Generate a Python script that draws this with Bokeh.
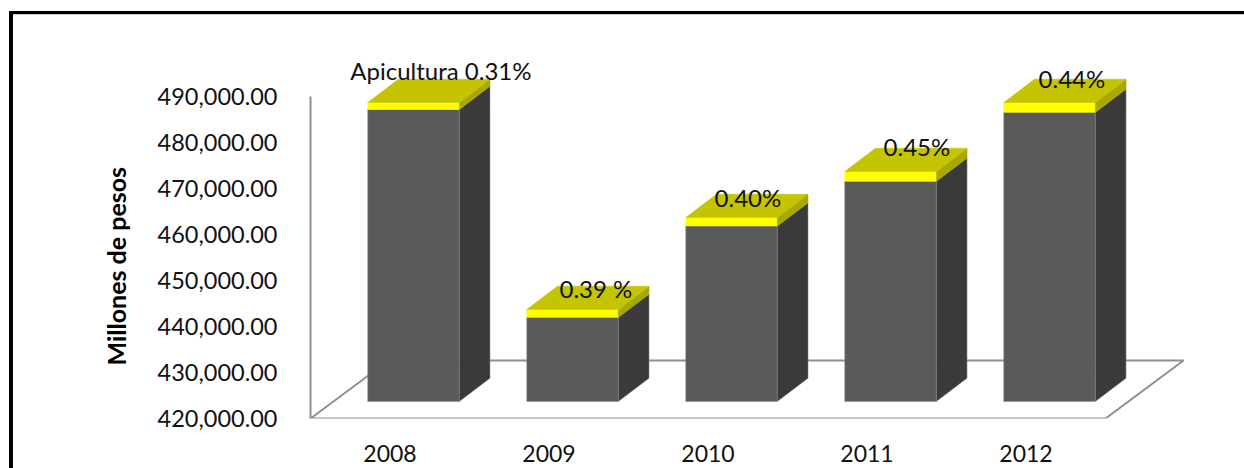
from bokeh.plotting import figure
from bokeh.models import Range1d, FixedTicker, NumeralTickFormatter, ColumnDataSource, Title
from bokeh.core.properties import value
from bokeh.embed import file_html
from bokeh.resources import INLINE

years = ["2008", "2009", "2010", "2011", "2012"]
totals = [485000, 440000, 460000, 470000, 485000]
shares = [0.31, 0.39, 0.40, 0.45, 0.44]
labels = ["Apicultura 0.31%", "0.39 %", "0.40%", "0.45%", "0.44%"]
y_ticks = [420000, 430000, 440000, 450000, 460000, 470000, 480000, 490000]
axis_title = "Millones de pesos"

# 3-D look, in data units
BASE = 420000
LIFT = 3700        # bars stand on the middle of the floor
HALF = 0.288       # half bar width
SHIFT = 0.148      # bar centre relative to the category label
DX, DY = 0.193, 5065
FLOOR_L, FLOOR_R = -0.5, 4.5
FLOOR_DX, FLOOR_DY = 0.4906, 12609
label_dx = [12, 8, 1, 11, 7]     # px, from the front-face centre + depth
label_dy = [32, 21, 20, 25, 24]  # px above the front-top edge
FONT = "Lato"

p = figure(width=1244, height=468, output_backend="svg", toolbar_location=None,
           x_range=Range1d(-0.5, 5.374), y_range=Range1d(BASE, 510870),
           min_border_left=310, min_border_right=0, min_border_top=0, min_border_bottom=50,
           outline_line_color=None, background_fill_color=None, border_fill_color=None)
p.grid.visible = False

# black picture frame, top and left, painted behind the transparent canvas
p.styles = {"background":
            "linear-gradient(black,black) 9px 11px/4px 100% no-repeat,"
            "linear-gradient(black,black) 9px 11px/100% 3px no-repeat,"
            "linear-gradient(#cfcfcf,#cfcfcf) 9px 14px/100% 1px no-repeat,"
            "white"}

# floor
fx = [FLOOR_L, FLOOR_R, FLOOR_R + FLOOR_DX, FLOOR_L + FLOOR_DX, FLOOR_L]
fy = [BASE, BASE, BASE + FLOOR_DY, BASE + FLOOR_DY, BASE]
p.line(fx, fy, line_color="#8f8f8f", line_width=2)

for i, (t, s) in enumerate(zip(totals, shares)):
    c = i + SHIFT
    l, r = c - HALF, c + HALF
    top = t + LIFT
    mid = top - t * s / 100
    bot = BASE + LIFT
    p.patch([l, r, r, l], [bot, bot, mid, mid], fill_color="#5a5a5a", line_color="#8a8a8a", line_width=0.5)
    p.patch([r, r + DX, r + DX, r], [bot, bot + DY, mid + DY, mid], fill_color="#3a3a3a", line_color="#8a8a8a", line_width=0.5)
    p.patch([l, r, r, l], [mid, mid, top, top], fill_color="#ffff00", line_color="#ffff00", line_width=0.5)
    p.patch([r, r + DX, r + DX, r], [mid, mid + DY, top + DY, top], fill_color="#a8a800", line_color="#a8a800", line_width=0.5)
    p.patch([l, r, r + DX, l + DX], [top, top, top + DY, top + DY], fill_color="#c4c400", line_color="#c4c400", line_width=0.5)

src = ColumnDataSource(dict(
    x=[i + SHIFT + DX / 2 for i in range(5)],
    y=[t + LIFT for t in totals],
    text=labels,
    xo=label_dx,
    yo=[-v for v in label_dy],
))
p.text("x", "y", text="text", x_offset="xo", y_offset="yo", source=src,
       text_font=value(FONT), text_font_size="24px", text_color="#111111",
       text_align="center", text_baseline="middle")

# axes
ya = p.yaxis[0]
ya.bounds = (420000, 490000)
ya.ticker = FixedTicker(ticks=y_ticks)
ya.formatter = NumeralTickFormatter(format="0,0.00")
ya.axis_line_color = "#8f8f8f"
ya.axis_line_width = 2
ya.major_tick_line_color = None
ya.minor_tick_line_color = None
ya.major_label_standoff = 27
ya.major_label_text_font = FONT
ya.major_label_text_font_size = "23.5px"
ya.major_label_text_color = "#111111"

xa = p.xaxis[0]
xa.ticker = FixedTicker(ticks=list(range(5)))
xa.major_label_overrides = {i: y for i, y in enumerate(years)}
xa.axis_line_color = None
xa.major_tick_line_color = None
xa.minor_tick_line_color = None
xa.major_label_standoff = 20
xa.major_label_text_font = FONT
xa.major_label_text_font_size = "23px"
xa.major_label_text_color = "#111111"

p.add_layout(Title(text=axis_title, align="left", offset=53, standoff=47, text_font=FONT,
                   text_font_size="25px", text_font_style="bold", text_color="black"), "left")

open("out.html", "w").write(file_html(p, INLINE))
